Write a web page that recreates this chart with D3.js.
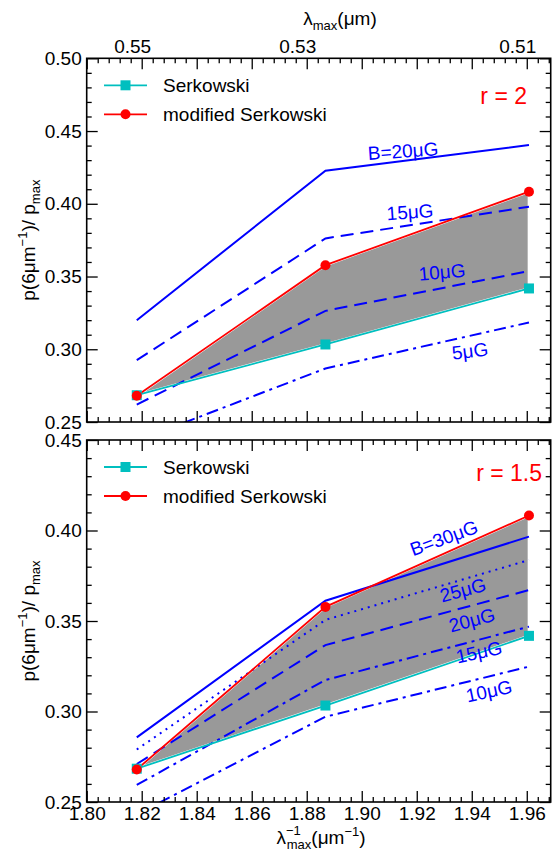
<!DOCTYPE html>
<html>
<head>
<meta charset="utf-8">
<script src="https://cdn.jsdelivr.net/npm/d3@7"></script>
<style>
  body { margin: 0; background: #fff; }
  svg { display: block; font-family: "Liberation Sans", Arial, sans-serif; }
  .tick text { font-size: 19px; fill: #000; }
  .tick line { stroke: #000; stroke-width: 1.3; }
</style>
</head>
<body>
<svg id="chart" width="558" height="852"></svg>
<script>
// x positions: 1/lambda_max for lambda_max = 0.55, 0.53, 0.51 um
var invLam = [1.8182, 1.8868, 1.9608];

// same reference curves in both panels
var serkowski = [0.2684, 0.3033, 0.3418];
var modSerkowski = [0.2680, 0.3578, 0.4083];

// r = 2 panel
var r2_B20 = [0.3200, 0.4227, 0.4404];
var r2_B15 = [0.2925, 0.3762, 0.3980];
var r2_B10 = [0.2620, 0.3264, 0.3537];
var r2_B5  = [0.2370, 0.2868, 0.3184];

// r = 1.5 panel
var r15_B30 = [0.2857, 0.3612, 0.3966];
var r15_B25 = [0.2790, 0.3506, 0.3837];
var r15_B20 = [0.2710, 0.3367, 0.3671];
var r15_B15 = [0.2594, 0.3174, 0.3469];
var r15_B10 = [0.2432, 0.2971, 0.3248];

var xMajor = [1.80, 1.82, 1.84, 1.86, 1.88, 1.90, 1.92, 1.94, 1.96];
var topTickPos = [1.82, 1.88, 1.96];
var topTickLabels = ["0.55", "0.53", "0.51"];

var BLUE = "#0000ff", CYAN = "#00bfbf", RED = "#ff0000";

var svg = d3.select("#chart");
var L = 86.7, R = 550.7;
var x = d3.scaleLinear().domain([1.80, 1.9687]).range([L, R]);
var xMinor = d3.range(1.80, 1.969, 0.004).filter(function(v) {
  return Math.abs(v / 0.02 - Math.round(v / 0.02)) > 0.01;
});

function panel(cfg) {
  var y = d3.scaleLinear().domain(cfg.ydom).range([cfg.y1, cfg.y0]);
  var g = svg.append("g");
  var clipId = "clip" + cfg.id;
  g.append("clipPath").attr("id", clipId).append("rect")
    .attr("x", L).attr("y", cfg.y0).attr("width", R - L).attr("height", cfg.y1 - cfg.y0);

  var pts = function(arr) { return arr.map(function(v, i) { return [invLam[i], v]; }); };
  var line = d3.line().x(function(d) { return x(d[0]); }).y(function(d) { return y(d[1]); });

  var plot = g.append("g").attr("clip-path", "url(#" + clipId + ")");

  // shaded band between the two Serkowski curves
  var area = d3.area()
    .x(function(d, i) { return x(invLam[i]); })
    .y0(function(d, i) { return y(serkowski[i]); })
    .y1(function(d, i) { return y(modSerkowski[i]); });
  plot.append("path").datum(serkowski).attr("d", area)
    .attr("fill", "#999999").attr("stroke", "#fff").attr("stroke-width", 2.6);

  cfg.blue.forEach(function(b) {
    plot.append("path").attr("d", line(pts(b.data)))
      .attr("fill", "none").attr("stroke", BLUE).attr("stroke-width", 2)
      .attr("stroke-dasharray", b.dash || null);
  });

  plot.append("path").attr("d", line(pts(serkowski)))
    .attr("fill", "none").attr("stroke", CYAN).attr("stroke-width", 1.8);
  plot.append("path").attr("d", line(pts(modSerkowski)))
    .attr("fill", "none").attr("stroke", RED).attr("stroke-width", 1.8);
  plot.selectAll(".sq").data(pts(serkowski)).enter().append("rect")
    .attr("x", function(d) { return x(d[0]) - 5; }).attr("y", function(d) { return y(d[1]) - 5; })
    .attr("width", 10).attr("height", 10).attr("fill", CYAN);
  g.selectAll(".dot").data(pts(modSerkowski)).enter().append("circle")
    .attr("cx", function(d) { return x(d[0]); }).attr("cy", function(d) { return y(d[1]); })
    .attr("r", 5).attr("fill", RED);

  cfg.labels.forEach(function(t) {
    g.append("text").attr("transform", "translate(" + t[1] + "," + t[2] + ") rotate(" + t[3] + ")")
      .attr("text-anchor", "middle").attr("dy", "0.35em")
      .attr("font-size", 19).attr("fill", BLUE).text(t[0]);
  });

  // axes: ticks inward on all four sides
  var yMajor = d3.range(cfg.ydom[0], cfg.ydom[1] + 0.001, 0.05);
  var yMinor = d3.range(cfg.ydom[0], cfg.ydom[1] + 0.001, 0.01).filter(function(v) {
    return Math.abs(v / 0.05 - Math.round(v / 0.05)) > 0.01;
  });
  function ax(gen, tr, vals, size, fmt) {
    var a = g.append("g").attr("transform", tr)
      .call(gen.tickValues(vals).tickSize(size).tickPadding(5).tickFormat(fmt));
    a.select(".domain").remove();
    return a;
  }
  var none = function() { return ""; };
  ax(d3.axisLeft(y), "translate(" + L + ",0)", yMajor, -11, d3.format(".2f"));
  ax(d3.axisLeft(y), "translate(" + L + ",0)", yMinor, -5, none);
  ax(d3.axisRight(y), "translate(" + R + ",0)", yMajor, -11, none);
  ax(d3.axisRight(y), "translate(" + R + ",0)", yMinor, -5, none);
  ax(d3.axisBottom(x), "translate(0," + cfg.y1 + ")", xMajor, -11, cfg.bottomLabels ? d3.format(".2f") : none);
  ax(d3.axisBottom(x), "translate(0," + cfg.y1 + ")", xMinor, -5, none);
  ax(d3.axisTop(x), "translate(0," + cfg.y0 + ")", xMajor, -11, none);
  ax(d3.axisTop(x), "translate(0," + cfg.y0 + ")", xMinor, -5, none);
  g.append("rect").attr("x", L).attr("y", cfg.y0).attr("width", R - L).attr("height", cfg.y1 - cfg.y0)
    .attr("fill", "none").attr("stroke", "#000").attr("stroke-width", 1.6);

  // legend
  var lg = g.append("g");
  [["Serkowski", CYAN, "sq", 27], ["modified Serkowski", RED, "dot", 56]].forEach(function(e) {
    var ly = cfg.y0 + e[3];
    lg.append("line").attr("x1", 104).attr("x2", 147).attr("y1", ly).attr("y2", ly)
      .attr("stroke", e[1]).attr("stroke-width", 1.8);
    if (e[2] === "sq") lg.append("rect").attr("x", 120.5).attr("y", ly - 5).attr("width", 10).attr("height", 10).attr("fill", e[1]);
    else lg.append("circle").attr("cx", 125.5).attr("cy", ly).attr("r", 5).attr("fill", e[1]);
    lg.append("text").attr("x", 163).attr("y", ly + 7).attr("font-size", 19).text(e[0]);
  });
  g.append("text").attr("x", cfg.rx).attr("y", cfg.ry).attr("text-anchor", "end")
    .attr("font-size", 23).attr("fill", RED).text(cfg.rText);

  // y label
  var yl = g.append("text")
    .attr("transform", "translate(35," + ((cfg.y0 + cfg.y1) / 2) + ") rotate(-90)")
    .attr("text-anchor", "middle").attr("font-size", 19);
  yl.append("tspan").text("p(6μm");
  yl.append("tspan").attr("font-size", 13).attr("dy", -8).text("−1");
  yl.append("tspan").attr("dy", 8).text(")/ p");
  yl.append("tspan").attr("font-size", 13).attr("dy", 5).text("max");
  return y;
}

panel({
  id: "a", ydom: [0.25, 0.50], y0: 58.3, y1: 422, bottomLabels: false,
  rText: "r = 2", rx: 527, ry: 104,
  blue: [{ data: r2_B20 }, { data: r2_B15, dash: "13,7" }, { data: r2_B10, dash: "13,7" }, { data: r2_B5, dash: "12,5,3,5" }],
  labels: [["B=20μG", 403, 151, -4], ["15μG", 410, 212, -4], ["10μG", 442, 272, -5], ["5μG", 470, 351, -7]]
});
panel({
  id: "b", ydom: [0.25, 0.45], y0: 440, y1: 802, bottomLabels: true,
  rText: "r = 1.5", rx: 542, ry: 481,
  blue: [{ data: r15_B30 }, { data: r15_B25, dash: "2,5" }, { data: r15_B20, dash: "13,7" },
         { data: r15_B15, dash: "12,5,3,5" }, { data: r15_B10, dash: "12,5,3,5" }],
  labels: [["B=30μG", 444, 538, -20], ["25μG", 463, 590, -15], ["20μG", 472, 620, -15],
           ["15μG", 479, 652, -12], ["10μG", 489, 691, -12]]
});

// top axis labels (lambda_max)
svg.selectAll(".toplab").data(topTickPos).enter().append("text")
  .attr("x", function(d) { return x(d) - 9; }).attr("y", 53)
  .attr("text-anchor", "middle").attr("font-size", 19)
  .text(function(d, i) { return topTickLabels[i]; });

var tl = svg.append("text").attr("x", 340).attr("y", 25).attr("text-anchor", "middle").attr("font-size", 19);
tl.append("tspan").text("λ");
tl.append("tspan").attr("font-size", 13).attr("dy", 5).text("max");
tl.append("tspan").attr("dy", -5).text("(μm)");

var bl = svg.append("text").attr("x", 321).attr("y", 844).attr("text-anchor", "middle").attr("font-size", 19);
bl.append("tspan").text("λ");
bl.append("tspan").attr("font-size", 13).attr("dy", -9).text("−1");
bl.append("tspan").attr("font-size", 13).attr("dx", -14).attr("dy", 14).text("max");
bl.append("tspan").attr("dy", -5).text("(μm");
bl.append("tspan").attr("font-size", 13).attr("dy", -8).text("−1");
bl.append("tspan").attr("dy", 8).text(")");
</script>
</body>
</html>
